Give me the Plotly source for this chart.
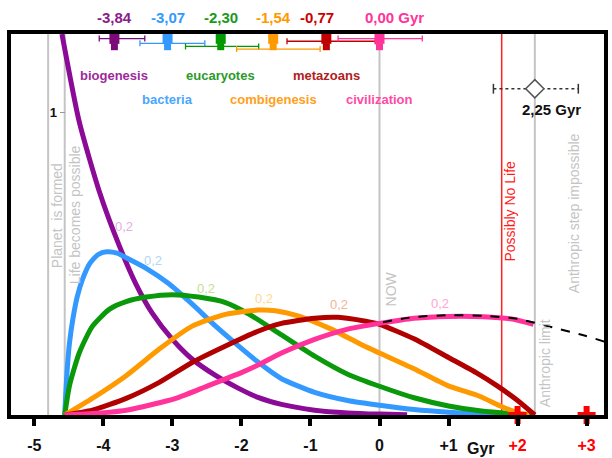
import plotly.graph_objects as go

# ---- timeline landmarks (Gyr, relative to now) ----
planet_formed = -4.80
life_start = -4.56
now = 0.00
no_life = 1.77
anthropic_limit = 2.25

# ---- hard steps: mean times and spread ----
step_names = ["biogenesis", "bacteria", "eucaryotes", "combigenesis", "metazoans", "civilization"]
step_means = [-3.84, -3.07, -2.30, -1.54, -0.77, 0.00]
step_err_minus = [0.22, 0.40, 0.51, 0.53, 0.57, 0.60]
step_err_plus = [0.44, 0.54, 0.55, 0.68, 0.71, 0.62]
step_mean_labels = ["-3,84", "-3,07", "-2,30", "-1,54", "-0,77", "0,00 Gyr"]
peak_labels = ["0,2", "0,2", "0,2", "0,2", "0,2", "0,2"]

limit_mean = 2.25
limit_err_minus = 0.60
limit_err_plus = 0.63
limit_label = "2,25 Gyr"

# ---- probability density curves of each step ----
biogenesis_x = [-4.60, -4.35, -4.06, -3.77, -3.53, -3.29, -3.00, -2.72, -2.37, -2.04, -1.76, -1.42, -0.94, -0.46, 0.00, 0.40]
biogenesis_y = [1.26, 0.97, 0.74, 0.56, 0.434, 0.336, 0.25, 0.186, 0.13, 0.088, 0.058, 0.035, 0.016, 0.007, 0.003, 0.001]

bacteria_x = [-4.56, -4.53, -4.49, -4.44, -4.38, -4.30, -4.20, -4.08, -3.95, -3.80, -3.67, -3.38, -3.05, -2.72, -2.37, -2.04, -1.76, -1.42, -0.94, -0.46, 0.00, 0.50, 1.00, 1.50, 2.00]
bacteria_y = [0.0, 0.13, 0.24, 0.32, 0.39, 0.45, 0.50, 0.53, 0.54, 0.535, 0.52, 0.485, 0.434, 0.368, 0.293, 0.228, 0.175, 0.12, 0.075, 0.048, 0.032, 0.018, 0.009, 0.003, 0.0]

eucaryotes_x = [-4.56, -4.49, -4.35, -4.16, -3.91, -3.67, -3.38, -3.00, -2.62, -2.23, -1.90, -1.42, -0.94, -0.46, 0.00, 0.50, 1.00, 1.45, 2.00, 2.25]
eucaryotes_y = [0.0, 0.098, 0.205, 0.293, 0.35, 0.375, 0.39, 0.398, 0.39, 0.372, 0.335, 0.265, 0.195, 0.135, 0.095, 0.057, 0.03, 0.014, 0.003, 0.0]

combigenesis_x = [-4.56, -4.16, -3.67, -3.19, -2.72, -2.23, -1.76, -1.51, -1.18, -0.70, -0.22, 0.00, 0.50, 0.98, 1.45, 1.75, 2.00, 2.17]
combigenesis_y = [0.0, 0.055, 0.13, 0.218, 0.293, 0.333, 0.347, 0.345, 0.328, 0.284, 0.228, 0.205, 0.153, 0.098, 0.062, 0.03, 0.008, 0.0]

metazoans_x = [-4.56, -4.16, -3.67, -3.19, -2.72, -2.23, -1.76, -1.42, -0.94, -0.60, -0.20, 0.00, 0.50, 1.00, 1.40, 1.70, 2.00, 2.25]
metazoans_y = [0.0, 0.016, 0.055, 0.108, 0.173, 0.228, 0.277, 0.303, 0.32, 0.323, 0.31, 0.30, 0.252, 0.19, 0.14, 0.097, 0.048, 0.0]

civilization_x = [-4.56, -4.20, -3.67, -2.95, -2.47, -2.00, -1.76, -1.42, -0.94, -0.46, 0.00, 0.50, 1.00, 1.50, 1.90, 2.23]
civilization_y = [0.0, 0.004, 0.016, 0.055, 0.098, 0.14, 0.165, 0.205, 0.25, 0.284, 0.303, 0.32, 0.326, 0.325, 0.318, 0.30]

extrapolation_x = [0.05, 0.50, 1.00, 1.50, 2.00, 2.50, 2.90, 3.30]
extrapolation_y = [0.307, 0.324, 0.330, 0.328, 0.318, 0.29, 0.267, 0.24]

x_ticks = [-5, -4, -3, -2, -1, 0, 1, 2, 3]
x_tick_text = ["-5", "-4", "-3", "-2", "-1", "0", "+1", "+2", "+3"]

# ---- styling ----
FONT = "Liberation Sans, Arial, sans-serif"
NARROW = "Liberation Sans Narrow, Arial Narrow, Liberation Sans, sans-serif"
line_colors = ["#8b0a96", "#3399ff", "#0a990a", "#ff9900", "#b00000", "#ff3399"]
marker_colors = ["#7a0a7a", "#3399ff", "#009900", "#ff9900", "#c00000", "#ff3399"]
mean_text_colors = ["#8b1a8b", "#3399ff", "#1a9a1a", "#ff9900", "#cc0000", "#ff3399"]
name_colors = ["#9b2a9b", "#4aa5ff", "#2a9a2a", "#ffa020", "#b02020", "#ff4aa5"]
peak_colors = ["#dfb0e0", "#b0d6f6", "#c4e094", "#ffd890", "#f2b494", "#ffa4d2"]
GRAY = "#c4c4c4"

X_RANGE = [-5.338, 3.252]
Y_RANGE = [0, 1.26]

# vertical positions of the top strip (mean markers, spread bars)
pin_row = 1.244
stem_row = 1.218
bar_rows = [1.245, 1.229, 1.219, 1.210, 1.236, 1.245]
name_rows = [1.122, 1.043, 1.122, 1.043, 1.122, 1.043]
mean_label_row = 1.042          # paper units, above the frame
mean_label_shift = [0, 0, 0, 0, -9, 15]
peak_pos = [(-3.70, 0.623), (-3.28, 0.512), (-2.52, 0.42), (-1.68, 0.385), (-0.58, 0.365), (0.88, 0.368)]

curves = [
    (biogenesis_x, biogenesis_y),
    (bacteria_x, bacteria_y),
    (eucaryotes_x, eucaryotes_y),
    (combigenesis_x, combigenesis_y),
    (metazoans_x, metazoans_y),
    (civilization_x, civilization_y),
]

fig = go.Figure()

# density curves (drawn purple first, pink last)
for (cx, cy), col, name in zip(curves, line_colors, step_names):
    fig.add_trace(go.Scatter(
        x=cx, y=cy, mode="lines", name=name,
        line=dict(color=col, width=5, shape="spline", smoothing=0.6),
        hoverinfo="skip"))

# extrapolated civilization curve beyond the anthropic limit
fig.add_trace(go.Scatter(
    x=extrapolation_x, y=extrapolation_y, mode="lines",
    line=dict(color="black", width=2, dash="dash", shape="spline", smoothing=0.6),
    hoverinfo="skip"))

# spread bars of each step's time
for i, m in enumerate(step_means):
    fig.add_trace(go.Scatter(
        x=[m], y=[bar_rows[i]], mode="markers", yaxis="y2",
        marker=dict(size=1, color=marker_colors[i]),
        error_x=dict(type="data", symmetric=False,
                     array=[step_err_plus[i]], arrayminus=[step_err_minus[i]],
                     color=marker_colors[i], thickness=1.3, width=3),
        hoverinfo="skip", cliponaxis=False))

# pin-shaped mean markers
fig.add_trace(go.Scatter(
    x=step_means, y=[stem_row] * len(step_means), mode="markers", yaxis="y2",
    marker=dict(symbol="square", size=7, color=marker_colors, line=dict(width=0)),
    hoverinfo="skip", cliponaxis=False))
fig.add_trace(go.Scatter(
    x=step_means, y=[pin_row] * len(step_means), mode="markers", yaxis="y2",
    marker=dict(symbol="square", size=10, color=marker_colors, line=dict(width=0)),
    hoverinfo="skip", cliponaxis=False))

# anthropic limit estimate with its dotted spread
limit_row = 1.079
lim_lo = limit_mean - limit_err_minus
lim_hi = limit_mean + limit_err_plus
fig.add_trace(go.Scatter(
    x=[lim_lo, lim_hi], y=[limit_row, limit_row], mode="lines+markers",
    line=dict(color="#333333", width=1.5, dash="dot"),
    marker=dict(symbol="line-ns", size=7, line=dict(color="#333333", width=1.5)),
    hoverinfo="skip"))
fig.add_trace(go.Scatter(
    x=[limit_mean], y=[limit_row], mode="markers",
    marker=dict(symbol="diamond", size=14, color="white", line=dict(color="#555555", width=1.5)),
    hoverinfo="skip"))

# red crosses on the future ticks
fig.add_trace(go.Scatter(
    x=[x for x in x_ticks if x >= 2], y=[0, 0], mode="markers",
    marker=dict(symbol="cross", size=15, color="#ff0000", line=dict(width=0)),
    hoverinfo="skip", cliponaxis=False))

# vertical reference lines
shapes = []
for xv in [planet_formed, life_start, now, anthropic_limit]:
    shapes.append(dict(type="line", xref="x", yref="paper", x0=xv, x1=xv, y0=0, y1=1,
                       line=dict(color=GRAY, width=2), layer="below"))
shapes.append(dict(type="line", xref="x", yref="paper", x0=no_life, x1=no_life, y0=0, y1=1,
                   line=dict(color="#ff2020", width=1.5), layer="below"))

annotations = []
for i, m in enumerate(step_means):
    # mean value above the frame
    annotations.append(dict(x=m, y=mean_label_row, xref="x", yref="paper",
                            text="<b>%s</b>" % step_mean_labels[i], yanchor="middle",
                            showarrow=False, xshift=mean_label_shift[i],
                            font=dict(family=FONT, size=15, color=mean_text_colors[i])))
    # step name
    annotations.append(dict(x=m, y=name_rows[i], xref="x", yref="y", text="<b>%s</b>" % step_names[i],
                            showarrow=False, font=dict(family=FONT, size=13, color=name_colors[i])))
    px_, py_ = peak_pos[i]
    annotations.append(dict(x=px_, y=py_, xref="x", yref="y", text=peak_labels[i], showarrow=False,
                            font=dict(family=NARROW, size=13, color=peak_colors[i])))

annotations.append(dict(x=2.49, y=1.011, xref="x", yref="y", text="<b>%s</b>" % limit_label,
                        showarrow=False, font=dict(family=FONT, size=15, color="#111111")))

# rotated landmark captions
vtexts = [
    ("Planet  is formed", -4.68, 0.659, GRAY),
    ("Life becomes possible", -4.42, 0.662, GRAY),
    ("NOW", 0.16, 0.417, GRAY),
    ("Possibly No Life", 1.885, 0.675, "#ff1a1a"),
    ("Anthropic limit", 2.39, 0.173, GRAY),
    ("Anthropic step impossible", 2.82, 0.668, GRAY),
]
for txt, xv, yv, col in vtexts:
    annotations.append(dict(x=xv, y=yv, xref="x", yref="y", text=txt, textangle=-90,
                            showarrow=False, font=dict(family=FONT, size=14, color=col)))

# unit of the x axis
annotations.append(dict(x=1.24, y=-0.087, xref="x", yref="paper", text="<b>Gyr</b>", xanchor="left",
                        yanchor="middle", showarrow=False,
                        font=dict(family=FONT, size=16, color="#111111")))

tick_text = []
for v, t in zip(x_ticks, x_tick_text):
    if v >= 2:
        tick_text.append("<span style='color:#ff0000'>%s</span>" % t)
    else:
        tick_text.append(t)

fig.update_layout(
    width=612, height=458,
    margin=dict(l=11, r=4, t=34, b=38),
    paper_bgcolor="white", plot_bgcolor="white",
    showlegend=False,
    shapes=shapes,
    annotations=annotations,
    xaxis=dict(range=X_RANGE, tickvals=x_ticks, ticktext=tick_text,
               ticks="outside", ticklen=7, tickwidth=4, tickcolor="black",
               showline=True, linecolor="black", linewidth=4, mirror=True,
               showgrid=False, zeroline=False, ticklabelstandoff=6,
               tickfont=dict(family=FONT, size=16, color="#111111", weight="bold")),
    yaxis=dict(range=Y_RANGE, showline=True, linecolor="black", linewidth=4, mirror=True,
               showticklabels=False, ticks="", showgrid=False, zeroline=False),
    yaxis2=dict(range=Y_RANGE, overlaying="y", anchor="free",
                position=(life_start - X_RANGE[0]) / (X_RANGE[1] - X_RANGE[0]),
                side="left", tickvals=[1], ticktext=["1"], ticks="outside", ticklen=5,
                tickwidth=1, tickcolor="#999999", showline=False, showgrid=False, zeroline=False,
                tickfont=dict(family=FONT, size=13, color="#111111", weight="bold")),
)

fig.write_html("out.html")
